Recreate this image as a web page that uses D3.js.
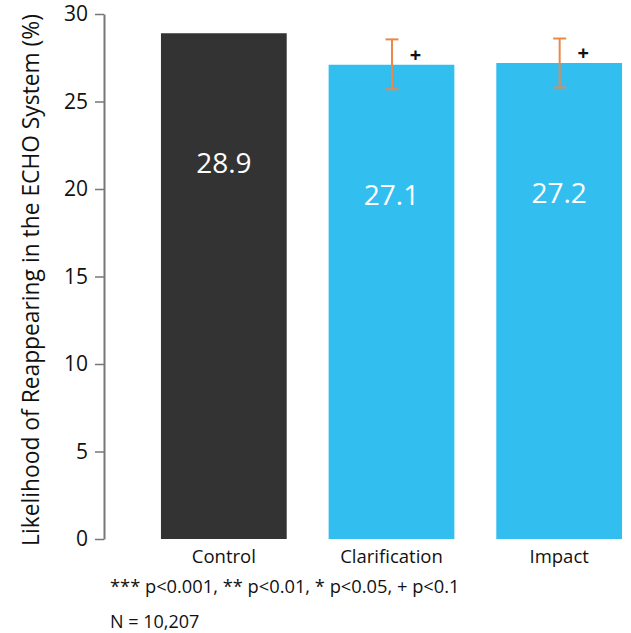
<!DOCTYPE html>
<html>
<head>
<meta charset="utf-8">
<script src="https://cdn.jsdelivr.net/npm/d3@7"></script>
<style>
	body { margin: 0; background: #fff; }
	svg text { font-family: "Open Sans", "Noto Sans", sans-serif; }
</style>
</head>
<body>
<svg id="chart" width="631" height="633"></svg>
<script>
;(function() {
	"use strict";

	var categories = ["Control", "Clarification", "Impact"],
		values = [28.9, 27.1, 27.2],
		errLow = [null, 25.7, 25.8],
		errHigh = [null, 28.55, 28.6],
		signif = ["", "+", "+"],
		barColors = ["#333333", "#33bef0", "#33bef0"],
		yTicks = [0, 5, 10, 15, 20, 25, 30];

	var svg = d3.select("#chart");

	var x = d3.scaleBand()
		.domain(categories)
		.range([140, 643])
		.paddingInner(0.25)
		.paddingOuter(0.125);

	var y = d3.scaleLinear()
		.domain([0, 30])
		.range([539, 14]);

	var rows = categories.map(function(c, i) {
		return { cat: c, value: values[i], lo: errLow[i], hi: errHigh[i], sig: signif[i], color: barColors[i] };
	});

	//bars
	svg.append("g").selectAll("rect")
		.data(rows)
		.join("rect")
		.attr("x", function(d) { return x(d.cat); })
		.attr("y", function(d) { return y(d.value); })
		.attr("width", x.bandwidth())
		.attr("height", function(d) { return y(0) - y(d.value); })
		.attr("fill", function(d) { return d.color; });

	//value labels inside bars
	svg.append("g").selectAll("text")
		.data(rows)
		.join("text")
		.attr("x", function(d) { return x(d.cat) + x.bandwidth() / 2; })
		.attr("y", function(d) { return y(d.value) + 130; })
		.attr("dy", "0.36em")
		.attr("text-anchor", "middle")
		.attr("fill", "#fff")
		.attr("font-size", 28)
		.text(function(d) { return d.value.toFixed(1); });

	//error bars
	var withErr = rows.filter(function(d) { return d.lo !== null; });
	var eg = svg.append("g").attr("stroke", "#e8894a").attr("stroke-width", 2).attr("fill", "none");
	withErr.forEach(function(d) {
		var cx = x(d.cat) + x.bandwidth() / 2 + 0.5;
		eg.append("line").attr("x1", cx).attr("x2", cx).attr("y1", y(d.hi)).attr("y2", y(d.lo));
		eg.append("line").attr("x1", cx - 6.5).attr("x2", cx + 6.5).attr("y1", y(d.hi)).attr("y2", y(d.hi));
		eg.append("line").attr("x1", cx - 6.5).attr("x2", cx + 6.5).attr("y1", y(d.lo)).attr("y2", y(d.lo));
	});

	//significance markers
	svg.append("g").selectAll("text")
		.data(withErr)
		.join("text")
		.attr("x", function(d) { return x(d.cat) + x.bandwidth() / 2 + 24; })
		.attr("y", function(d) { return y(d.value) - 10; })
		.attr("dy", "0.36em")
		.attr("text-anchor", "middle")
		.attr("font-size", 20)
		.attr("font-weight", "bold")
		.attr("fill", "#111")
		.text(function(d) { return d.sig; });

	//y axis
	var yAxis = svg.append("g")
		.attr("transform", "translate(104,0)")
		.call(d3.axisLeft(y).tickValues(yTicks).tickSize(9).tickSizeOuter(0).tickPadding(7));
	yAxis.select(".domain").attr("stroke", "#777").attr("stroke-width", 2);
	yAxis.selectAll(".tick line").attr("stroke", "#777").attr("stroke-width", 1.5);
	yAxis.selectAll(".tick text")
		.attr("font-family", "'Open Sans', sans-serif")
		.attr("font-size", 21)
		.attr("fill", "#111");

	//x labels
	svg.append("g").selectAll("text")
		.data(categories)
		.join("text")
		.attr("x", function(d) { return x(d) + x.bandwidth() / 2; })
		.attr("y", 563)
		.attr("text-anchor", "middle")
		.attr("font-size", 18.5)
		.attr("fill", "#111")
		.text(function(d) { return d; });

	//y title
	svg.append("text")
		.attr("transform", "translate(39,280) rotate(-90)")
		.attr("text-anchor", "middle")
		.attr("font-size", 22.8)
		.attr("fill", "#111")
		.text("Likelihood of Reappearing in the ECHO System (%)");

	//footnotes
	svg.append("text")
		.attr("x", 110).attr("y", 593)
		.attr("font-size", 18.3)
		.attr("fill", "#111")
		.text("*** p<0.001, ** p<0.01, * p<0.05, + p<0.1");

	svg.append("text")
		.attr("x", 110).attr("y", 628)
		.attr("font-size", 18)
		.attr("fill", "#111")
		.text("N = 10,207");
})();
</script>
</body>
</html>
